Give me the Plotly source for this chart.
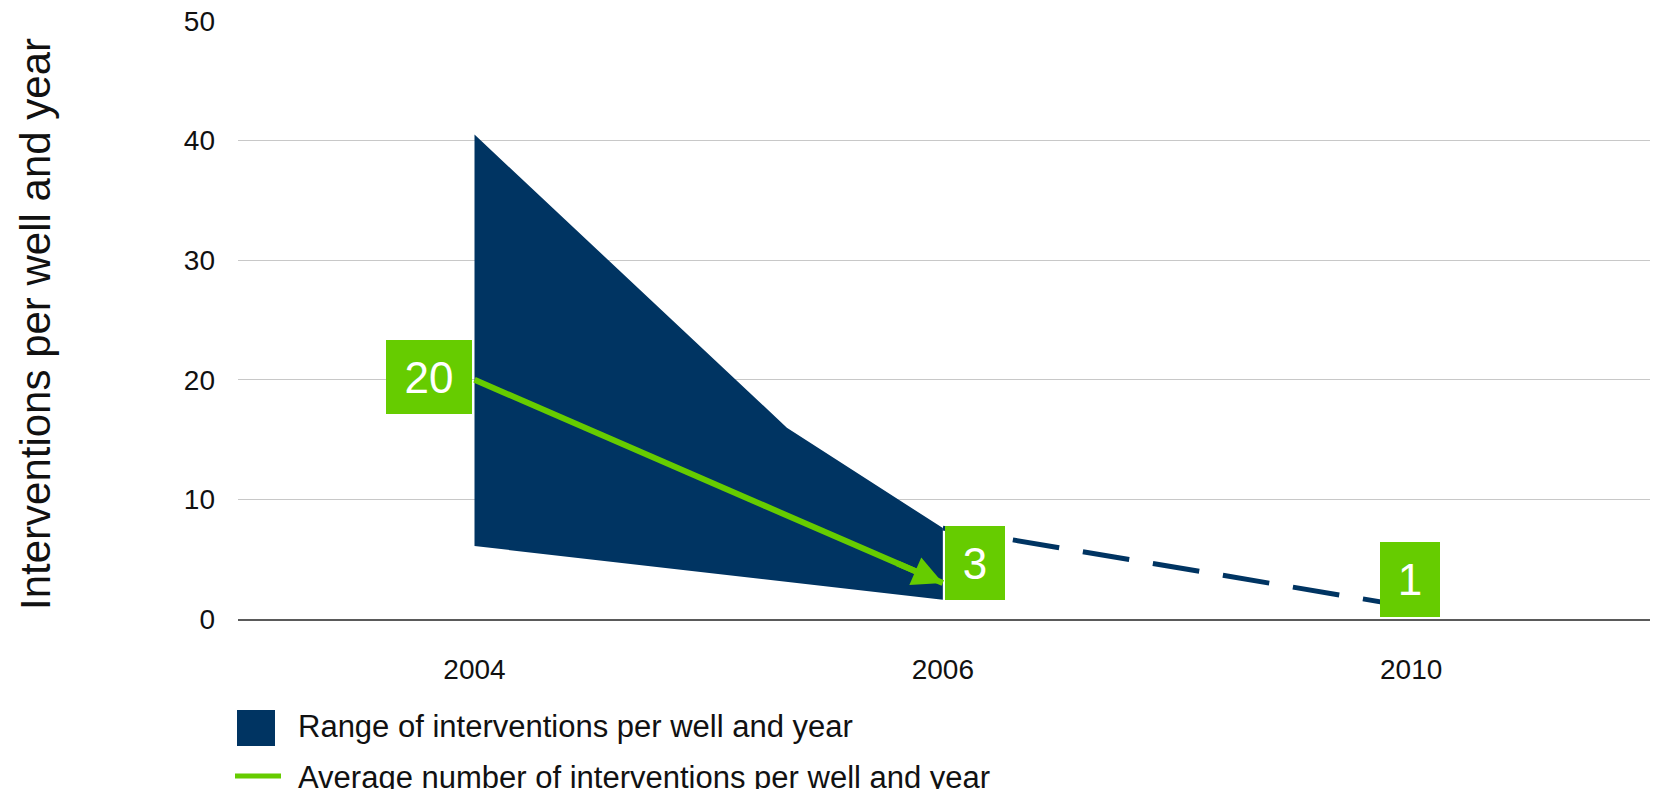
import plotly.graph_objects as go

# ---- data -------------------------------------------------------------
years = ["2004", "2006", "2010"]
year_pos = [0, 1, 2]

# envelope of interventions per well and year (2004 -> 2006)
range_upper_pos = [0.0, 0.667, 1.0]
range_upper = [40.5, 16.0, 7.6]
range_lower_pos = [0.0, 1.0]
range_lower = [6.1, 1.6]

# average number of interventions per well and year
avg_pos = [0, 1]
avg_values = [20, 3]

# outlook towards 2010
outlook_pos = [1, 2]
outlook_values = [7.6, 1]

label_values = [20, 3, 1]

NAVY = "#003462"
GREEN = "#66CC00"
FONT = "Liberation Sans, Arial, Helvetica, sans-serif"

W, H = 1653, 789
ML, MR, MT, MB = 238, 3, 21, 170
PW, PH = W - ML - MR, H - MT - MB


def px_x(px):
    return (px - ML) / PW


def px_y(py):
    return (H - MB - py) / PH


fig = go.Figure()

# shaded range polygon: upper edge left-to-right, lower edge back
poly_x = range_upper_pos + range_lower_pos[::-1]
poly_y = range_upper + range_lower[::-1]
fig.add_trace(go.Scatter(
    x=poly_x, y=poly_y, mode="lines", fill="toself",
    fillcolor=NAVY, line=dict(width=0, color=NAVY),
    hoverinfo="skip", showlegend=False,
))

# dashed continuation to 2010
fig.add_trace(go.Scatter(
    x=outlook_pos, y=outlook_values, mode="lines",
    line=dict(color=NAVY, width=5, dash="47px,24px"),
    hoverinfo="skip", showlegend=False,
))

# average line
fig.add_trace(go.Scatter(
    x=avg_pos, y=avg_values, mode="lines",
    line=dict(color=GREEN, width=6),
    hoverinfo="skip", showlegend=False,
))

annotations = []

# arrow head at the end of the average line
t = 0.1
annotations.append(dict(
    x=avg_pos[1], y=avg_values[1],
    ax=avg_pos[1] - t * (avg_pos[1] - avg_pos[0]),
    ay=avg_values[1] - t * (avg_values[1] - avg_values[0]),
    xref="x", yref="y", axref="x", ayref="y",
    text="", showarrow=True, arrowhead=2, arrowsize=1.0,
    arrowwidth=6, arrowcolor=GREEN, standoff=0,
))

# value boxes
label_pos = [0, 1, 2]
box_style = [
    dict(xanchor="right", xshift=-3, yshift=3, width=86, height=74),
    dict(xanchor="left", xshift=2, yshift=20, width=60, height=74),
    dict(xanchor="center", xshift=-1, yshift=28, width=60, height=75),
]
for pos, val, st in zip(label_pos, label_values, box_style):
    annotations.append(dict(
        x=pos, y=val, xref="x", yref="y", text=str(val), showarrow=False,
        bgcolor=GREEN, borderpad=0, borderwidth=0,
        font=dict(family=FONT, size=44, color="white"),
        yanchor="middle", align="center", valign="middle", **st,
    ))

# y axis title
annotations.append(dict(
    x=px_x(35), y=px_y(324), xref="paper", yref="paper",
    text="Interventions per well and year", showarrow=False,
    textangle=-90, xanchor="center", yanchor="middle",
    font=dict(family=FONT, size=42, color="#111111"),
))

# legend
annotations.append(dict(
    x=px_x(296), y=px_y(726), xref="paper", yref="paper",
    text="Range of interventions per well and year", showarrow=False,
    xanchor="left", yanchor="middle",
    font=dict(family=FONT, size=31, color="#111111"),
))
annotations.append(dict(
    x=px_x(296), y=px_y(777), xref="paper", yref="paper",
    text="Average number of interventions per well and year", showarrow=False,
    xanchor="left", yanchor="middle",
    font=dict(family=FONT, size=31, color="#111111"),
))

shapes = [
    dict(type="rect", xref="paper", yref="paper",
         x0=px_x(237), x1=px_x(275), y0=px_y(746), y1=px_y(710),
         fillcolor=NAVY, line=dict(width=0)),
    dict(type="line", xref="paper", yref="paper",
         x0=px_x(235), x1=px_x(281), y0=px_y(776), y1=px_y(776),
         line=dict(color=GREEN, width=5)),
]

fig.update_layout(
    width=W, height=H,
    margin=dict(l=ML, r=MR, t=MT, b=MB),
    paper_bgcolor="white", plot_bgcolor="white",
    showlegend=False,
    annotations=annotations,
    shapes=shapes,
    xaxis=dict(
        range=[-0.505, 2.51],
        tickmode="array", tickvals=year_pos, ticktext=years,
        showgrid=False, zeroline=False,
        showline=True, linecolor="#5a5a5a", linewidth=2,
        ticks="", ticklabelstandoff=24,
        tickfont=dict(family=FONT, size=28, color="#111111"),
    ),
    yaxis=dict(
        range=[0, 50], tickvals=[0, 10, 20, 30, 40, 50],
        showgrid=True, gridcolor="#c8c8c8", gridwidth=1,
        zeroline=False, showline=False,
        ticks="", ticklabelstandoff=22,
        tickfont=dict(family=FONT, size=28, color="#111111"),
    ),
)

fig.write_html("out.html")
